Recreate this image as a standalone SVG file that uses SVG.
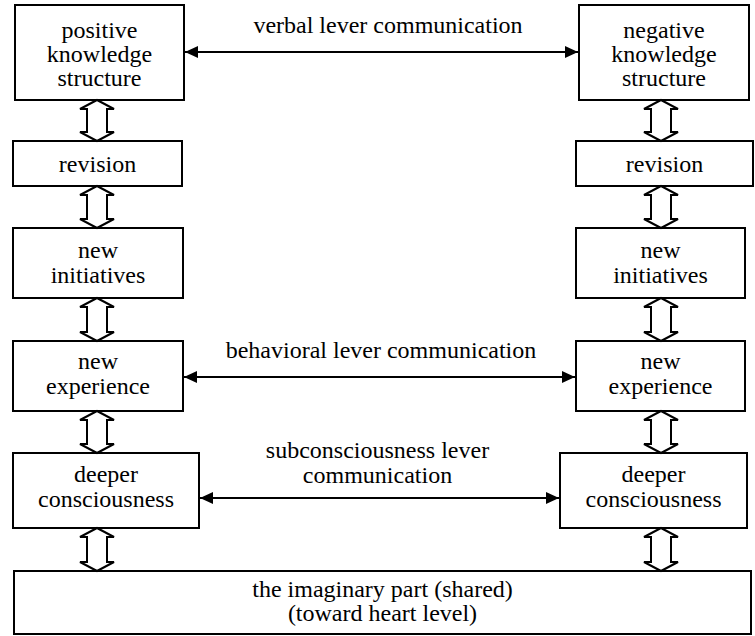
<svg xmlns="http://www.w3.org/2000/svg" width="755" height="636" viewBox="0 0 755 636">
<style>
.box{fill:#fff;stroke:#000;stroke-width:2}
text{font-family:'Liberation Serif',Tinos,'Times New Roman',Times,'DejaVu Serif',serif;font-size:24px;fill:#000;text-anchor:middle}
.link{stroke:#000;stroke-width:2;fill:none;marker-start:url(#ah);marker-end:url(#ah)}
.harrow{fill:#fff;stroke:#000;stroke-width:2;stroke-linejoin:miter}
</style>
<defs>
<marker id="ah" viewBox="0 0 13 12" refX="13" refY="6" markerWidth="13" markerHeight="12" markerUnits="userSpaceOnUse" orient="auto-start-reverse">
<path d="M0,0 L13,6 L0,12 Z" fill="#000"/>
</marker>
</defs>
<rect width="755" height="636" fill="#fff"/>
<g font-family="Liberation Serif, Times New Roman, serif">
<g id="positive"><rect class="box" x="15" y="5" width="169" height="95"/><text x="99.5" y="38">positive</text><text x="99.5" y="62">knowledge</text><text x="99.5" y="86">structure</text></g>
<g id="negative"><rect class="box" x="579" y="5" width="170" height="95"/><text x="664" y="38">negative</text><text x="664" y="62">knowledge</text><text x="664" y="86">structure</text></g>
<g id="revision-left"><rect class="box" x="13" y="141" width="169" height="45"/><text x="97.5" y="172">revision</text></g>
<g id="revision-right"><rect class="box" x="576" y="141" width="177" height="45"/><text x="664.5" y="172">revision</text></g>
<g id="initiatives-left"><rect class="box" x="13" y="228" width="170" height="70"/><text x="98" y="258">new</text><text x="98" y="283">initiatives</text></g>
<g id="initiatives-right"><rect class="box" x="576" y="228" width="169" height="70"/><text x="660.5" y="258">new</text><text x="660.5" y="283">initiatives</text></g>
<g id="experience-left"><rect class="box" x="13" y="341" width="170" height="70"/><text x="98" y="369">new</text><text x="98" y="394">experience</text></g>
<g id="experience-right"><rect class="box" x="576" y="341" width="169" height="70"/><text x="660.5" y="369">new</text><text x="660.5" y="394">experience</text></g>
<g id="deeper-left"><rect class="box" x="13" y="453" width="186" height="75"/><text x="106" y="482">deeper</text><text x="106" y="507">consciousness</text></g>
<g id="deeper-right"><rect class="box" x="560" y="453" width="187" height="75"/><text x="653.5" y="482">deeper</text><text x="653.5" y="507">consciousness</text></g>
<g id="imaginary"><rect class="box" x="14" y="571" width="737" height="63"/><text x="382.5" y="597">the imaginary part (shared)</text><text x="382.5" y="621">(toward heart level)</text></g>

<g id="connectors">
<line class="link" x1="185" y1="52" x2="578" y2="52"/>
<text x="388" y="33">verbal lever communication</text>
<line class="link" x1="184" y1="377" x2="575" y2="377"/>
<text x="381" y="358">behavioral lever communication</text>
<line class="link" x1="200" y1="498" x2="559" y2="498"/>
<text x="377.5" y="458">subconsciousness lever</text>
<text x="377.5" y="483">communication</text>

<path class="harrow" d="M97,100 L114,109 L107,109 L107,132 L114,132 L97,141 L80,132 L87,132 L87,109 L80,109 Z"/>
<path class="harrow" d="M97,186 L114,195 L107,195 L107,219 L114,219 L97,228 L80,219 L87,219 L87,195 L80,195 Z"/>
<path class="harrow" d="M97,298 L114,307 L107,307 L107,332 L114,332 L97,341 L80,332 L87,332 L87,307 L80,307 Z"/>
<path class="harrow" d="M97,411 L114,420 L107,420 L107,444 L114,444 L97,453 L80,444 L87,444 L87,420 L80,420 Z"/>
<path class="harrow" d="M97,528 L114,537 L107,537 L107,562 L114,562 L97,571 L80,562 L87,562 L87,537 L80,537 Z"/>

<path class="harrow" d="M661,100 L678,109 L671,109 L671,132 L678,132 L661,141 L644,132 L651,132 L651,109 L644,109 Z"/>
<path class="harrow" d="M661,186 L678,195 L671,195 L671,219 L678,219 L661,228 L644,219 L651,219 L651,195 L644,195 Z"/>
<path class="harrow" d="M661,298 L678,307 L671,307 L671,332 L678,332 L661,341 L644,332 L651,332 L651,307 L644,307 Z"/>
<path class="harrow" d="M661,411 L678,420 L671,420 L671,444 L678,444 L661,453 L644,444 L651,444 L651,420 L644,420 Z"/>
<path class="harrow" d="M661,528 L678,537 L671,537 L671,562 L678,562 L661,571 L644,562 L651,562 L651,537 L644,537 Z"/>
</g>
</g>
</svg>
